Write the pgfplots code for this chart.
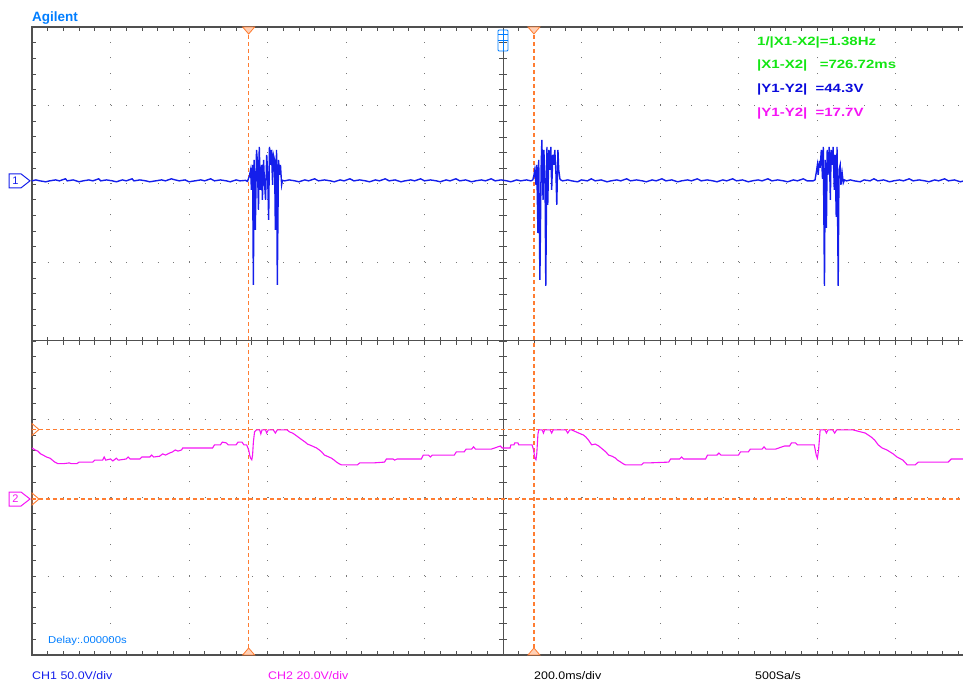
\documentclass[border=0pt]{standalone}
\usepackage{fontspec}
\setmainfont{Liberation Sans}
\newfontfamily\readout{Liberation Sans}[FakeStretch=1.25]
\newfontfamily\statusfont{Liberation Sans}[FakeStretch=1.13]
\usepackage{pgfplots}
\pgfplotsset{compat=1.18}

\definecolor{frame}{RGB}{80,80,80}
\definecolor{gridc}{RGB}{120,120,120}
\definecolor{chone}{RGB}{20,30,235}
\definecolor{chtwo}{RGB}{245,20,245}
\definecolor{cursor}{RGB}{255,125,50}
\definecolor{agblue}{RGB}{0,125,255}
\definecolor{mgreen}{RGB}{20,230,20}
\definecolor{mblue}{RGB}{10,10,220}

\begin{document}
\begin{tikzpicture}[x=1pt,y=1pt]
\useasboundingbox (0pt,0pt) rectangle (963pt,684pt);
\begin{axis}[
    at={(32pt,29pt)}, anchor=south west,
    scale only axis, width=942pt, height=628pt,
    xmin=-1200, xmax=1200, ymin=-4, ymax=4,
    xtick distance=200, ytick distance=1,
    minor x tick num=4, minor y tick num=4,
    xticklabels={}, yticklabels={},
    scaled ticks=false,
    major tick length=4pt, minor tick length=4pt,
    every tick/.style={frame, line width=0.8pt},
    axis line style={frame, line width=2pt},
    grid=major,
    major grid style={gridc, line width=1pt, dash pattern=on 1pt off 14.7pt},
    clip=false,
]
% centre cross
\draw[frame, line width=1pt] (axis cs:-1200,0) -- (axis cs:1200,0);
\draw[frame, line width=1pt] (axis cs:0,-4) -- (axis cs:0,4);
\pgfplotsinvokeforeach{-1160,-1120,...,1160}{
  \draw[frame, line width=0.8pt] (axis cs:#1,-0.05) -- (axis cs:#1,0.05);
}
\pgfplotsinvokeforeach{-3.8,-3.6,...,3.8}{
  \draw[frame, line width=0.8pt] (axis cs:-10.2,#1) -- (axis cs:10.2,#1);
}

% cursors
\draw[cursor, line width=1.2pt, dash pattern=on 4pt off 3pt] (axis cs:-648,-4) -- (axis cs:-648,4);
\draw[cursor, line width=1.2pt, dash pattern=on 4pt off 3pt] (axis cs:78.8,-4) -- (axis cs:78.8,4);
\draw[cursor, line width=1.2pt, dash pattern=on 4pt off 3pt] (axis cs:-1200,-1.128) -- (axis cs:1200,-1.128);
\draw[cursor, line width=1.2pt, dash pattern=on 4pt off 3pt] (axis cs:-1200,-2.013) -- (axis cs:1200,-2.013);
\coordinate (xonetop) at (axis cs:-648,4);
\coordinate (xtwotop) at (axis cs:78.8,4);
\coordinate (xonebot) at (axis cs:-648,-4);
\coordinate (xtwobot) at (axis cs:78.8,-4);
\coordinate (yone) at (axis cs:-1200,-1.128);
\coordinate (ytwo) at (axis cs:-1200,-2.013);
\coordinate (gndone) at (axis cs:-1200,2.04);
\coordinate (trig) at (axis cs:0,4);

% CH2, 20 V/div, ground at -2.013 div
\addplot[chtwo, line width=1.1pt, y filter/.expression={y/20-2.013}] coordinates {
(-1200,13.0) (-1192,12.5) (-1185,12.2) (-1178,11.5) (-1172,11.2) (-1163,10.7) (-1154,10.4) (-1148,9.9) (-1142,9.4) (-1134,9.0) (-1120,9.0) (-1105,9.2) (-1100,9.0) (-1086,9.0) (-1080,9.4) (-1060,9.4) (-1045,9.4) (-1040,9.9) (-1020,9.9) (-1016,10.7) (-1012,9.9) (-1000,10.2) (-994,9.7) (-985,10.4) (-980,9.9) (-960,10.2) (-955,10.7) (-950,10.2) (-925,10.2) (-920,10.7) (-900,10.7) (-895,11.2) (-890,10.7) (-875,10.9) (-867,11.5) (-860,11.2) (-850,11.7) (-842,12.0) (-835,12.5) (-828,12.2) (-819,12.5) (-816,13.0) (-800,13.0) (-780,13.0) (-760,13.0) (-740,13.0) (-735,13.8) (-720,13.8) (-715,14.5) (-705,14.3) (-700,13.8) (-680,13.8) (-675,14.5) (-665,14.5) (-660,13.8) (-653,13.8) (-648,12.5) (-645,11.0) (-643,10.4) (-640,10.0) (-638,11.2) (-636,14.5) (-633,17.1) (-628,17.6) (-620,17.6) (-617,16.6) (-614,17.6) (-605,17.6) (-602,16.8) (-598,17.6) (-585,17.6) (-580,16.8) (-575,17.6) (-560,17.6) (-550,17.6) (-544,17.1) (-536,16.8) (-526,16.1) (-518,15.5) (-511,15.0) (-504,14.5) (-498,14.0) (-486,13.5) (-475,13.0) (-468,12.5) (-462,12.0) (-455,11.2) (-448,10.9) (-437,10.4) (-430,9.9) (-424,9.4) (-418,9.0) (-412,8.7) (-390,8.7) (-371,8.7) (-365,9.2) (-353,9.2) (-330,9.2) (-302,9.4) (-297,10.2) (-280,10.2) (-276,9.9) (-270,10.2) (-240,10.2) (-208,10.2) (-203,11.2) (-190,11.2) (-185,10.7) (-180,11.2) (-150,11.2) (-124,11.2) (-119,12.0) (-99,12.0) (-94,12.7) (-80,12.7) (-75,13.3) (-70,12.7) (-30,12.7) (-7,13.5) (-2,13.0) (18,13.0) (20,13.8) (28,13.8) (30,14.3) (38,14.3) (40,13.8) (69,13.8) (74,13.8) (78,12.5) (81,10.4) (84,10.0) (86,11.5) (89,16.5) (91,17.6) (100,17.6) (103,16.8) (106,17.6) (120,17.6) (124,16.8) (128,17.6) (150,17.6) (160,17.6) (165,16.8) (170,17.6) (175,17.6) (193,16.8) (205,16.3) (211,15.8) (218,15.0) (226,13.8) (235,14.0) (244,13.5) (256,12.5) (262,12.0) (269,11.2) (278,10.9) (287,10.4) (292,9.9) (300,9.4) (306,9.0) (312,8.7) (353,8.7) (358,9.2) (371,9.2) (422,9.4) (427,10.2) (450,10.2) (455,10.7) (460,10.2) (516,10.2) (521,11.2) (545,11.2) (550,11.7) (555,11.2) (600,11.2) (605,12.0) (625,12.0) (630,12.7) (660,12.7) (665,13.3) (670,12.7) (694,12.7) (717,13.5) (730,13.5) (735,14.3) (745,14.3) (750,13.8) (767,13.8) (793,13.8) (798,11.2) (801,10.4) (804,12.5) (808,17.6) (820,17.6) (824,16.8) (828,17.6) (840,17.6) (845,16.8) (850,17.6) (892,17.6) (923,16.8) (938,15.8) (947,15.0) (956,13.8) (966,13.0) (978,12.5) (994,11.5) (1004,10.7) (1019,9.9) (1030,8.7) (1050,8.7) (1058,9.4) (1100,9.4) (1134,9.4) (1142,10.2) (1200,10.2)
};

% CH1, 50 V/div, ground at +2.04 div
\addplot[chone, line width=1.4pt, y filter/.expression={y/50+2.04}] coordinates {
(-1200,0) (-1190,0.6) (-1180,0) (-1165,-0.6) (-1155,0) (-1140,0.6) (-1130,0) (-1115,1.3) (-1110,0) (-1095,0.6) (-1080,-0.6) (-1070,0) (-1055,0.6) (-1045,0) (-1030,1.3) (-1025,0) (-1010,0.6) (-995,0) (-985,-0.6) (-970,0.6) (-960,0) (-945,1.3) (-940,0) (-925,0.6) (-910,0) (-900,-0.6) (-885,0) (-870,0.6) (-860,0) (-845,1.3) (-835,0.6) (-825,0) (-810,0.6) (-800,-0.6) (-785,0) (-770,0.6) (-760,0) (-745,1.3) (-735,0) (-720,0.6) (-705,0) (-695,-0.6) (-680,0.6) (-670,0) (-656,0.3)
(-651,-0.3) (-646,3.2) (-643,7.0) (-641,-5.7) (-638,10.2) (-636,-66.2) (-634,13.4) (-631,-31.2) (-628,19.7) (-626,13.4) (-623,-18.5) (-621,21.7) (-618,-5.7) (-615,10.2) (-613,-12.1) (-610,13.4) (-608,0.6) (-605,-12.1) (-602,16.6) (-600,7.0) (-597,-24.8) (-595,21.7) (-592,10.2) (-590,19.7) (-587,-2.5) (-585,16.6) (-582,13.4) (-580,-31.2) (-577,19.7) (-575,-66.2) (-572,13.4) (-569,3.8) (-567,10.2) (-564,-2.5) (-562,0.3) (-556,0)
(-545,0.6) (-530,0) (-520,-0.6) (-505,0.6) (-495,0) (-480,1.3) (-470,0) (-455,0.6) (-440,0) (-430,-0.6) (-415,0.6) (-405,0) (-390,1.3) (-380,0) (-365,0.6) (-350,0) (-340,-0.6) (-325,0.6) (-315,0) (-300,1.3) (-290,0) (-275,0.6) (-260,-0.6) (-250,0) (-235,0.6) (-225,0) (-210,1.3) (-200,0) (-185,0.6) (-170,0) (-160,-0.6) (-145,0.6) (-135,0) (-120,1.3) (-110,0) (-95,0.6) (-80,-0.6) (-70,0) (-55,0.6) (-45,0) (-30,1.3) (-20,0) (-5,0.6) (10,0) (20,-0.6) (35,0.6) (45,0) (60,0.6) (71,0)
(76,0.6) (79,3.8) (81,7.0) (84,-2.5) (86,10.2) (89,-33.1) (91,13.4) (94,-63.1) (97,7.0) (99,26.1) (102,-12.1) (104,19.7) (107,3.8) (109,-66.9) (112,21.7) (114,-15.3) (117,19.7) (119,7.0) (122,21.7) (124,-5.7) (127,16.6) (130,10.2) (132,19.7) (135,3.8) (137,-15.3) (140,19.7) (142,7.0) (145,1.3) (147,0.6) (152,0)
(165,0.6) (175,0) (190,-0.6) (200,0.6) (215,0) (225,1.3) (235,0) (250,0.6) (265,-0.6) (275,0) (290,0.6) (300,0) (315,1.3) (325,0) (340,0.6) (355,0) (365,-0.6) (380,0.6) (390,0) (405,1.3) (415,0) (430,0.6) (445,-0.6) (455,0) (470,0.6) (480,0) (495,1.3) (505,0) (520,0.6) (535,0) (545,-0.6) (560,0.6) (570,0) (585,1.3) (595,0) (610,0.6) (625,-0.6) (635,0) (650,0.6) (660,0) (675,1.3) (685,0) (700,0.6) (715,0) (725,-0.6) (740,0.6) (750,0) (765,1.3) (775,0) (790,0)
(795,0.6) (798,5.1) (801,10.2) (803,3.8) (806,12.7) (808,8.3) (811,19.7) (814,1.3) (816,21.7) (819,-66.9) (821,13.4) (824,-29.9) (826,19.7) (828,3.8) (831,21.7) (834,-12.1) (836,19.7) (839,10.2) (841,21.7) (844,-5.7) (846,16.6) (849,-22.9) (851,21.7) (854,-66.9) (856,7.0) (859,10.2) (861,-2.5) (864,5.1) (867,-1.3) (870,0.6) (875,0)
(885,0.6) (895,0) (910,-0.6) (920,0.6) (935,0) (945,1.3) (955,0) (970,0.6) (985,-0.6) (995,0) (1010,0.6) (1020,0) (1035,1.3) (1045,0) (1060,0.6) (1075,0) (1085,-0.6) (1100,0.6) (1110,0) (1125,1.3) (1135,0) (1150,0.6) (1165,-0.6) (1175,0) (1190,0.6) (1200,0)
};
\end{axis}

% cursor flags
\foreach \c in {xonetop,xtwotop}{
  \draw[cursor, fill=cursor!35, line width=0.8pt] (\c) ++(-6pt,0pt) -- ++(12pt,0pt) -- ++(-6pt,-7pt) -- cycle;
}
\foreach \c in {xonebot,xtwobot}{
  \draw[cursor, fill=cursor!35, line width=0.8pt] (\c) ++(-6pt,0pt) -- ++(12pt,0pt) -- ++(-6pt,7pt) -- cycle;
}
\foreach \c in {yone,ytwo}{
  \draw[cursor, line width=0.9pt] (\c) ++(0pt,6pt) -- ++(7pt,-6pt) -- ++(-7pt,-6pt) -- cycle;
}

% channel ground markers
\draw[chone, line width=1pt] (gndone) ++(-23pt,-7pt) -- ++(0pt,14pt) -- ++(12pt,0pt) -- ++(9pt,-7pt) -- ++(-9pt,-7pt) -- cycle;
\node[chone, font=\fontsize{11}{11}\selectfont, inner sep=0] at ([xshift=-16.5pt]gndone) {1};
\draw[chtwo, line width=1pt] (ytwo) ++(-23pt,-7pt) -- ++(0pt,14pt) -- ++(12pt,0pt) -- ++(9pt,-7pt) -- ++(-9pt,-7pt) -- cycle;
\node[chtwo, font=\fontsize{11}{11}\selectfont, inner sep=0] at ([xshift=-16.5pt]ytwo) {2};

% trigger position marker
\draw[agblue, line width=0.9pt, rounded corners=1pt] (trig) ++(-5pt,-24pt) rectangle ++(10pt,21pt);
\draw[agblue, line width=0.9pt] (trig) ++(0pt,-24pt) -- ++(0pt,21pt);
\draw[agblue, line width=0.9pt] (trig) ++(-5pt,-13pt) -- ++(10pt,0pt);
\draw[agblue, line width=0.9pt] (trig) ++(-5pt,-7pt) -- ++(10pt,0pt);

% texts
\node[anchor=base west, inner sep=0, agblue, font=\fontsize{13.5}{14}\selectfont\bfseries] at (32pt,662pt) {Agilent};
\node[anchor=base west, inner sep=0, mgreen, font=\readout\fontsize{12}{12}\selectfont\bfseries] at (757pt,638pt) {1/|X1-X2|=1.38Hz};
\node[anchor=base west, inner sep=0, mgreen, font=\readout\fontsize{12}{12}\selectfont\bfseries] at (757pt,615pt) {|X1-X2|\ \ \ =726.72ms};
\node[anchor=base west, inner sep=0, mblue, font=\readout\fontsize{12}{12}\selectfont\bfseries] at (757pt,591pt) {|Y1-Y2|\ \ =44.3V};
\node[anchor=base west, inner sep=0, chtwo, font=\readout\fontsize{12}{12}\selectfont\bfseries] at (757pt,567pt) {|Y1-Y2|\ \ =17.7V};
\node[anchor=base west, inner sep=0, agblue, font=\statusfont\fontsize{10}{10}\selectfont] at (48pt,40pt) {Delay:.000000s};
\node[anchor=base west, inner sep=0, chone, font=\statusfont\fontsize{11}{11}\selectfont] at (32pt,4.5pt) {CH1 50.0V/div};
\node[anchor=base west, inner sep=0, chtwo, font=\statusfont\fontsize{11}{11}\selectfont] at (268pt,4.5pt) {CH2 20.0V/div};
\node[anchor=base west, inner sep=0, black, font=\statusfont\fontsize{11}{11}\selectfont] at (534pt,4.5pt) {200.0ms/div};
\node[anchor=base west, inner sep=0, black, font=\statusfont\fontsize{11}{11}\selectfont] at (755pt,4.5pt) {500Sa/s};
\end{tikzpicture}
\end{document}
